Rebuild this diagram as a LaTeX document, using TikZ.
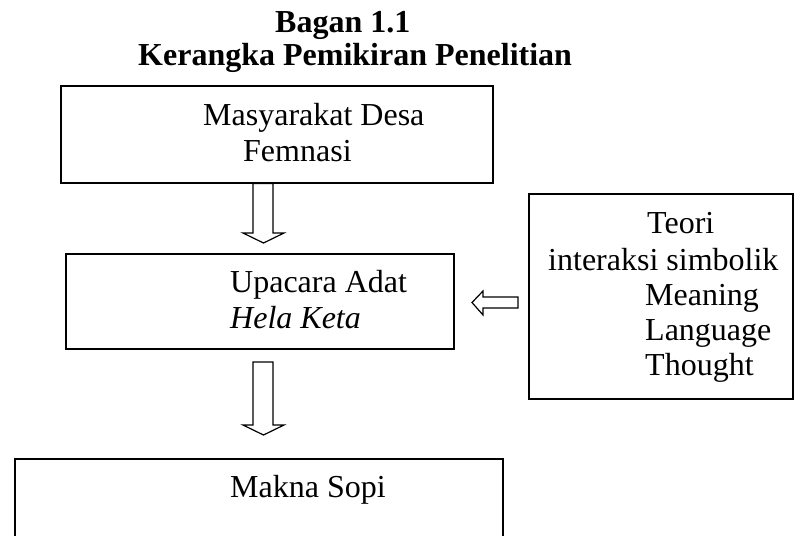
\documentclass[tikz,border=0pt]{standalone}
\usepackage{fontspec}
\setmainfont{Liberation Serif}
\begin{document}
\begin{tikzpicture}[x=1pt,y=-1pt,
  box/.style={draw, line width=1.6pt, inner sep=0pt, anchor=north west},
  txt/.style={font=\fontsize{32}{37}\selectfont, anchor=base west, inner sep=0pt},
  ttl/.style={font=\fontsize{32}{37}\selectfont\bfseries, anchor=base west, inner sep=0pt},
  blk/.style={draw, line width=1.2pt, fill=white, line join=miter}]
\useasboundingbox (0,0) rectangle (794,535);
% title
\node[ttl] (t1) at (275,33) {Bagan 1.1};
\node[ttl] (t2) at (138,66) {Kerangka Pemikiran Penelitian};
% boxes
\node[box, minimum width=432pt, minimum height=97pt] (masy) at (60,85) {};
\node[box, minimum width=388pt, minimum height=95pt] (upac) at (65,253) {};
\node[box, minimum width=264pt, minimum height=205pt] (teori) at (528,193) {};
\coordinate (mk) at (15,459);
\draw[line width=1.6pt] (15,540) -- (mk) -- (503,459) -- (503,540);
% texts
\node[txt] (a1) at (203,125) {Masyarakat Desa};
\node[txt] (a2) at (243,161) {Femnasi};
\node[txt] (b1) at (230,292) {Upacara Adat};
\node[txt] (b2) at (230,328) {\itshape Hela Keta};
\node[txt] (c1) at (647,233) {Teori};
\node[txt] (c2) at (548,270) {interaksi simbolik};
\node[txt] (c3) at (645,305) {Meaning};
\node[txt] (c4) at (645,340) {Language};
\node[txt] (c5) at (645,375) {Thought};
\node[txt] (d1) at (230,497) {Makna Sopi};
% block arrows
\draw[blk] (253,0 |- masy.south) -- (253,233) -- (243,233) -- (263.5,243)
  -- (284,233) -- (273,233) -- (273,0 |- masy.south) -- cycle;
\draw[blk] (253,362) -- (253,425) -- (243,425) -- (263.5,435)
  -- (284,425) -- (273,425) -- (273,362) -- cycle;
\draw[blk] (518,297) -- (483,297) -- (483,291) -- (472,302.5)
  -- (483,315) -- (483,308) -- (518,308) -- cycle;
\end{tikzpicture}
\end{document}
